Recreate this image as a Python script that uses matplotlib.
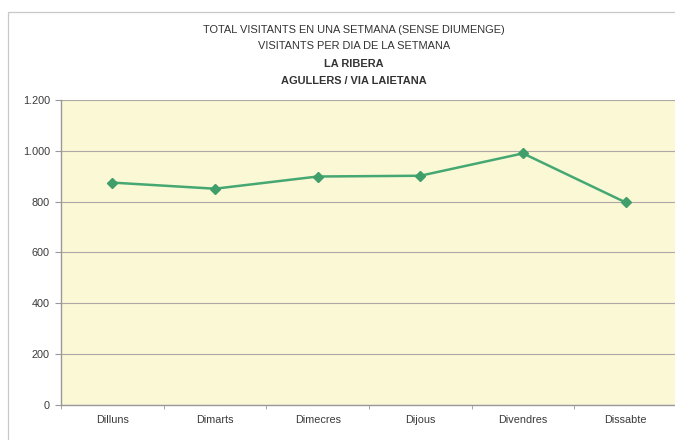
import matplotlib.pyplot as plt
from matplotlib.patches import Rectangle
from matplotlib.ticker import FuncFormatter

# Data
days = ["Dilluns", "Dimarts", "Dimecres", "Dijous", "Divendres", "Dissabte"]
visitants = [875, 851, 899, 902, 990, 797]
y_ticks = [0, 200, 400, 600, 800, 1000, 1200]
title_lines = [
    "TOTAL VISITANTS EN UNA SETMANA (SENSE DIUMENGE)",
    "VISITANTS PER DIA DE LA SETMANA",
    "LA RIBERA",
    "AGULLERS / VIA LAIETANA",
]

plt.rcParams["font.family"] = ["Liberation Sans", "DejaVu Sans"]

W, H = 675, 440
fig = plt.figure(figsize=(W / 100, H / 100), dpi=100)
fig.patch.set_facecolor("white")

# outer chart frame
fig.patches.append(
    Rectangle((8 / W, -0.01), 1.0, 1 - 12 / H + 0.01, transform=fig.transFigure,
              fill=False, edgecolor="#c8c8c8", lw=0.9)
)

ax = fig.add_axes([61 / W, 1 - 405 / H, 616 / W, 305 / H])
ax.set_facecolor("#fbf8d6")

x = list(range(len(days)))
ax.plot(x, visitants, color="#45a872", lw=1.8, marker="D", markersize=5,
        markerfacecolor="#3f9e69", markeredgecolor="#3f9e69", zorder=3)

ax.set_xlim(-0.5, len(days) - 0.5)
ax.set_ylim(0, 1200)
ax.set_yticks(y_ticks)
ax.yaxis.set_major_formatter(FuncFormatter(lambda v, p: f"{int(v):,}".replace(",", ".")))
ax.set_xticks(x)
ax.set_xticklabels(days)
ax.set_xticks([i + 0.5 for i in range(-1, len(days))], minor=True)
ax.tick_params(axis="x", which="major", length=0, pad=7, labelsize=7.8, colors="#3a3a3a")
ax.tick_params(axis="x", which="minor", length=3, color="#999999")
ax.tick_params(axis="y", length=4, pad=4, labelsize=7.8, colors="#3a3a3a", color="#999999")

ax.grid(axis="y", color="#b0a6a6", lw=0.8)
ax.set_axisbelow(True)
for side in ["top", "right"]:
    ax.spines[side].set_visible(False)
for side in ["left", "bottom"]:
    ax.spines[side].set_color("#999999")
    ax.spines[side].set_linewidth(1.0)

# title (four lines, last two bold)
title_y = [30, 46, 64, 81]
for i, (line, yy) in enumerate(zip(title_lines, title_y)):
    fig.text(354 / W, 1 - yy / H, line, ha="center", va="center", fontsize=7.9,
             color="#333333", fontweight="bold" if i >= 2 else "normal")

fig.savefig("out.png", dpi=100)
